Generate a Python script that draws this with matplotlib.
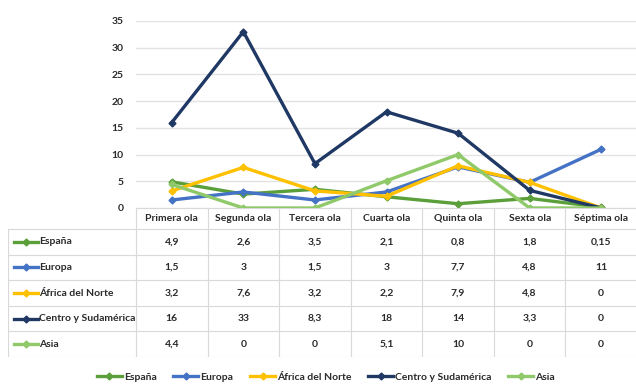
import matplotlib.pyplot as plt
import matplotlib as mpl
from matplotlib.lines import Line2D

mpl.rcParams['font.family'] = ['Lato', 'DejaVu Sans']
mpl.rcParams['font.weight'] = 'bold'

# Olas de la pandemia y porcentaje por procedencia
olas = ['Primera ola', 'Segunda ola', 'Tercera ola', 'Cuarta ola',
        'Quinta ola', 'Sexta ola', 'Séptima ola']
series = ['España', 'Europa', 'África del Norte', 'Centro y Sudamérica', 'Asia']

espana = [4.9, 2.6, 3.5, 2.1, 0.8, 1.8, 0.15]
europa = [1.5, 3, 1.5, 3, 7.7, 4.8, 11]
africa_norte = [3.2, 7.6, 3.2, 2.2, 7.9, 4.8, 0]
centro_sudamerica = [16, 33, 8.3, 18, 14, 3.3, 0]
asia = [4.4, 0, 0, 5.1, 10, 0, 0]

valores = [espana, europa, africa_norte, centro_sudamerica, asia]
colores = ['#5b9f3a', '#4472c4', '#ffc000', '#1f3864', '#8fc96a']

W, H = 636, 385
fig = plt.figure(figsize=(W / 100, H / 100), dpi=100)

# pixel helpers
def fx(px):
    return px / W

def fy(py):
    return 1 - py / H

col_left, col_right = 136, 637
col_w = (col_right - col_left) / len(olas)
x = list(range(len(olas)))
lw, ms, fs = 2.4, 3.5, 7.5
txt_color = '#2a2a2a'

# line chart
ax = fig.add_axes([fx(col_left), fy(208), fx(col_right - col_left), (208 - 21) / H])
for vals, c, name in zip(valores, colores, series):
    ax.plot(x, vals, color=c, lw=lw, marker='D', ms=ms, label=name, zorder=3)
ax.set_xlim(-0.5, len(olas) - 0.5)
ax.set_ylim(0, 35)
ax.set_yticks(range(0, 36, 5))
ax.grid(axis='y', color='#e3e3e3', lw=1.0)
ax.set_axisbelow(True)
ax.set_xticks([])
ax.tick_params(axis='y', length=0, labelsize=fs, pad=9, colors=txt_color)
for s in ax.spines.values():
    s.set_visible(False)

# data table
label_left = 8
tab = fig.add_axes([fx(label_left), fy(357), fx(col_right - label_left), (357 - 208) / H])
tab.set_xlim(label_left, col_right)
tab.set_ylim(357, 208)
tab.axis('off')

header_top, header_bot = 208, 229
row_h = (357 - header_bot) / len(series)
grid_kw = dict(color='#d9d9d9', lw=0.8)

# header
for i, ola in enumerate(olas):
    cx = col_left + (i + 0.5) * col_w
    tab.text(cx, (header_top + header_bot) / 2, ola, ha='center', va='center',
             fontsize=fs, color=txt_color)
for i in range(len(olas) + 1):
    xx = col_left + i * col_w
    tab.plot([xx, xx], [header_top, 357], **grid_kw)
tab.plot([label_left, label_left], [header_bot, 357], **grid_kw)
tab.plot([col_left, col_right], [header_top, header_top], **grid_kw)

# body rows
for r, (name, vals, c) in enumerate(zip(series, valores, colores)):
    top = header_bot + r * row_h
    cy = top + row_h / 2
    tab.plot([label_left, col_right], [top, top], **grid_kw)
    tab.plot([label_left + 6, label_left + 30], [cy, cy], color=c, lw=lw)
    tab.plot([label_left + 18], [cy], marker='D', ms=ms, color=c)
    tab.text(label_left + 31, cy, name, ha='left', va='center', fontsize=fs,
             color=txt_color)
    for i, v in enumerate(vals):
        txt = f'{v:g}'.replace('.', ',')
        tab.text(col_left + (i + 0.5) * col_w, cy, txt, ha='center', va='center',
                 fontsize=fs, color=txt_color)
tab.plot([label_left, col_right], [357, 357], **grid_kw)

# legend
handles = [Line2D([], [], color=c, lw=lw, marker='D', ms=ms) for c in colores]
fig.legend(handles, series, loc='center', bbox_to_anchor=(fx(326), fy(377)),
           ncol=5, frameon=False, fontsize=fs, handlelength=2.4,
           handletextpad=0.2, columnspacing=1.6, labelcolor=txt_color)

fig.savefig('out.png', dpi=100)
